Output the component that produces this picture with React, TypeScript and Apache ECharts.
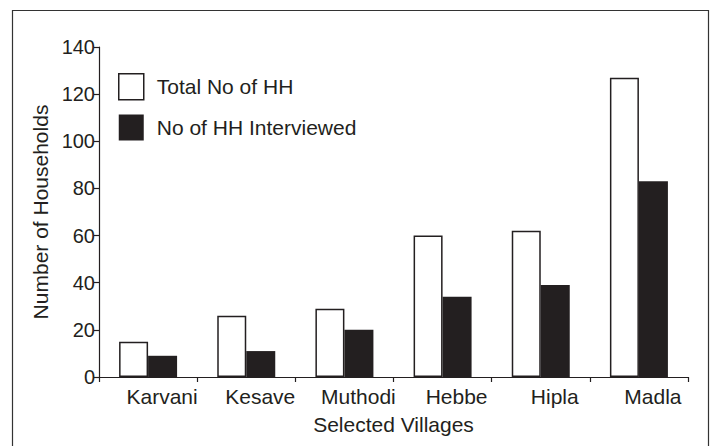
import React, { useEffect, useRef } from "react";
import * as echarts from "echarts";

const villages = ["Karvani", "Kesave", "Muthodi", "Hebbe", "Hipla", "Madla"];
const totalHH = [15, 26, 29, 60, 62, 127];
const interviewedHH = [9, 11, 20, 34, 39, 83];
const seriesNames = ["Total No of HH", "No of HH Interviewed"];

const INK = "#231f20";
const FONT = "'Liberation Sans', Arial, sans-serif";

export default function App() {
  const ref = useRef<HTMLDivElement>(null);
  useEffect(() => {
    if (!ref.current) return;
    const chart = echarts.init(ref.current, null, { renderer: "svg" });
    chart.setOption({
      animation: false,
      backgroundColor: "#fff",
      textStyle: { fontFamily: FONT, color: INK },
      graphic: [
        {
          type: "rect",
          shape: { x: 12.5, y: 10.5, width: 696, height: 450 },
          style: { fill: "none", stroke: "#333", lineWidth: 1.2 },
          silent: true,
        },
      ],
      grid: { left: 99, right: 26, top: 47, bottom: 69 },
      legend: {
        orient: "vertical",
        left: 118,
        top: 73,
        padding: 0,
        itemWidth: 25,
        itemHeight: 26,
        itemGap: 14,
        icon: "rect",
        textStyle: { fontFamily: FONT, fontSize: 21, color: INK, padding: [0, 0, 0, 8] },
        data: [
          { name: seriesNames[0], itemStyle: { color: "#fff", borderColor: INK, borderWidth: 1.5 } },
          { name: seriesNames[1], itemStyle: { color: INK, borderWidth: 0 } },
        ],
      },
      xAxis: {
        type: "category",
        data: villages,
        name: "Selected Villages",
        nameLocation: "middle",
        nameGap: 37,
        nameTextStyle: { fontFamily: FONT, fontSize: 21, color: INK },
        axisLine: { lineStyle: { color: INK, width: 1.2 } },
        axisTick: { show: true, length: 5, lineStyle: { color: INK, width: 1.2 } },
        axisLabel: { fontFamily: FONT, fontSize: 21, color: INK, margin: 9, padding: [0, 0, 0, 28] },
      },
      yAxis: {
        type: "value",
        min: 0,
        max: 140,
        interval: 20,
        name: "Number of Households",
        nameLocation: "middle",
        nameGap: 47,
        nameTextStyle: { fontFamily: FONT, fontSize: 21, color: INK },
        axisLine: { show: true, lineStyle: { color: INK, width: 1.2 } },
        axisTick: { show: true, length: 5, lineStyle: { color: INK, width: 1.2 } },
        axisLabel: { fontFamily: FONT, fontSize: 20, color: INK, margin: 4 },
        splitLine: { show: false },
      },
      series: [
        {
          name: seriesNames[0],
          type: "bar",
          data: totalHH,
          barWidth: 29,
          barGap: "0%",
          itemStyle: { color: "#fff", borderColor: INK, borderWidth: 1.5 },
        },
        {
          name: seriesNames[1],
          type: "bar",
          data: interviewedHH,
          barWidth: 29,
          barGap: "0%",
          itemStyle: { color: INK },
        },
      ],
    });
    return () => chart.dispose();
  }, []);
  return <div ref={ref} style={{ width: 714, height: 446, position: "absolute", left: 0, top: 0 }} />;
}
